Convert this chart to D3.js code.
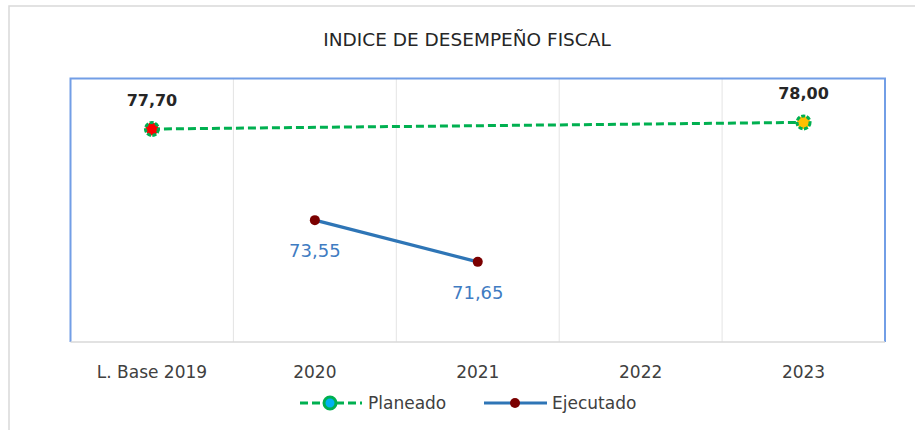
<!DOCTYPE html>
<html>
<head>
<meta charset="utf-8">
<script src="https://cdn.jsdelivr.net/npm/d3@7"></script>
<style>
  html, body { margin: 0; padding: 0; background: #fff; }
  svg { display: block; }
</style>
</head>
<body>
<svg id="chart" width="915" height="430"></svg>
<script>
// Categories along the x axis
const categories = ["L. Base 2019", "2020", "2021", "2022", "2023"];
// Planned index values (only base line and target year)
const planeado = [77.70, null, null, null, 78.00];
// Executed index values
const ejecutado = [null, 73.55, 71.65, null, null];
// Marker fill per planned point
const planeadoFill = ["#ff0000", null, null, null, "#ffc000"];
// Value axis extent
const yDomain = [68, 80];

const fmt = v => d3.format(".2f")(v).replace(".", ",");

const svg = d3.select("#chart");
const plot = { left: 70.5, top: 78.5, right: 885, bottom: 342 };

// Outer chart frame
svg.append("rect")
  .attr("x", 9).attr("y", 6)
  .attr("width", 930).attr("height", 440)
  .attr("fill", "#fff")
  .attr("stroke", "#d9d9d9").attr("stroke-width", 1.5);

// Title
svg.append("text")
  .attr("x", 467).attr("y", 46)
  .attr("text-anchor", "middle")
  .attr("font-family", "'Liberation Sans Narrow', 'DejaVu Sans', sans-serif")
  .attr("font-size", 18.5)
  .attr("fill", "#262626")
  .text("INDICE DE DESEMPEÑO FISCAL");

const x = d3.scaleBand().domain(categories).range([plot.left, plot.right]).padding(0);
const y = d3.scaleLinear().domain(yDomain).range([plot.bottom, plot.top]);
const cx = c => x(c) + x.bandwidth() / 2;

// Vertical gridlines at category boundaries
svg.append("g").selectAll("line")
  .data(categories.slice(1))
  .enter().append("line")
  .attr("x1", d => x(d)).attr("x2", d => x(d))
  .attr("y1", plot.top).attr("y2", plot.bottom)
  .attr("stroke", "#e4e4e4").attr("stroke-width", 1);

// Plot area border (blue), bottom axis line (gray)
svg.append("path")
  .attr("d", `M${plot.left},${plot.bottom} V${plot.top} H${plot.right} V${plot.bottom}`)
  .attr("fill", "none").attr("stroke", "#729ee6").attr("stroke-width", 2);
svg.append("line")
  .attr("x1", plot.left).attr("x2", plot.right)
  .attr("y1", plot.bottom).attr("y2", plot.bottom)
  .attr("stroke", "#d9d9d9").attr("stroke-width", 1.5);

// Category labels via bottom axis
const xAxis = svg.append("g")
  .attr("transform", `translate(0,${plot.bottom})`)
  .call(d3.axisBottom(x).tickSize(0).tickPadding(24));
xAxis.select(".domain").remove();
xAxis.selectAll("text")
  .attr("font-family", "'DejaVu Sans', sans-serif")
  .attr("font-size", 17)
  .attr("fill", "#404040");

// Planned series: dashed line connecting the defined points
const planPts = categories.map((c, i) => ({ c, v: planeado[i], fill: planeadoFill[i] })).filter(d => d.v != null);
svg.append("path")
  .datum(planPts)
  .attr("d", d3.line().x(d => cx(d.c)).y(d => y(d.v)))
  .attr("fill", "none").attr("stroke", "#00b050")
  .attr("stroke-width", 3).attr("stroke-dasharray", "8,4");
svg.selectAll("circle.plan")
  .data(planPts).enter().append("circle")
  .attr("cx", d => cx(d.c)).attr("cy", d => y(d.v)).attr("r", 6.5)
  .attr("fill", d => d.fill)
  .attr("stroke", "#00b050").attr("stroke-width", 3).attr("stroke-dasharray", "4,1.5");
svg.selectAll("text.plan")
  .data(planPts).enter().append("text")
  .attr("x", d => cx(d.c)).attr("y", d => y(d.v) - 23)
  .attr("text-anchor", "middle")
  .attr("font-family", "'DejaVu Sans', sans-serif")
  .attr("font-weight", "bold").attr("font-size", 16)
  .attr("fill", "#262626")
  .text(d => fmt(d.v));

// Executed series: solid line with markers
const ejePts = categories.map((c, i) => ({ c, v: ejecutado[i] })).filter(d => d.v != null);
svg.append("path")
  .datum(ejePts)
  .attr("d", d3.line().x(d => cx(d.c)).y(d => y(d.v)))
  .attr("fill", "none").attr("stroke", "#2e75b6").attr("stroke-width", 3.2);
svg.selectAll("circle.eje")
  .data(ejePts).enter().append("circle")
  .attr("cx", d => cx(d.c)).attr("cy", d => y(d.v)).attr("r", 5)
  .attr("fill", "#7b0000");
svg.selectAll("text.eje")
  .data(ejePts).enter().append("text")
  .attr("x", d => cx(d.c)).attr("y", d => y(d.v) + 37)
  .attr("text-anchor", "middle")
  .attr("font-family", "'DejaVu Sans', sans-serif")
  .attr("font-size", 18)
  .attr("fill", "#3f7cc2")
  .text(d => fmt(d.v));

// Legend
const leg = svg.append("g").attr("transform", "translate(0,403)");
leg.append("line").attr("x1", 300).attr("x2", 362).attr("y1", 0).attr("y2", 0)
  .attr("stroke", "#00b050").attr("stroke-width", 3).attr("stroke-dasharray", "8,4");
leg.append("circle").attr("cx", 330).attr("cy", 0).attr("r", 6)
  .attr("fill", "#00b0f0").attr("stroke", "#00b050").attr("stroke-width", 3);
leg.append("text").attr("x", 368).attr("y", 6)
  .attr("font-family", "'DejaVu Sans', sans-serif").attr("font-size", 17)
  .attr("fill", "#404040").text("Planeado");
leg.append("line").attr("x1", 484).attr("x2", 547).attr("y1", 0).attr("y2", 0)
  .attr("stroke", "#2e75b6").attr("stroke-width", 3.2);
leg.append("circle").attr("cx", 515).attr("cy", 0).attr("r", 5).attr("fill", "#7b0000");
leg.append("text").attr("x", 552).attr("y", 6)
  .attr("font-family", "'DejaVu Sans', sans-serif").attr("font-size", 17)
  .attr("fill", "#404040").text("Ejecutado");
</script>
</body>
</html>
